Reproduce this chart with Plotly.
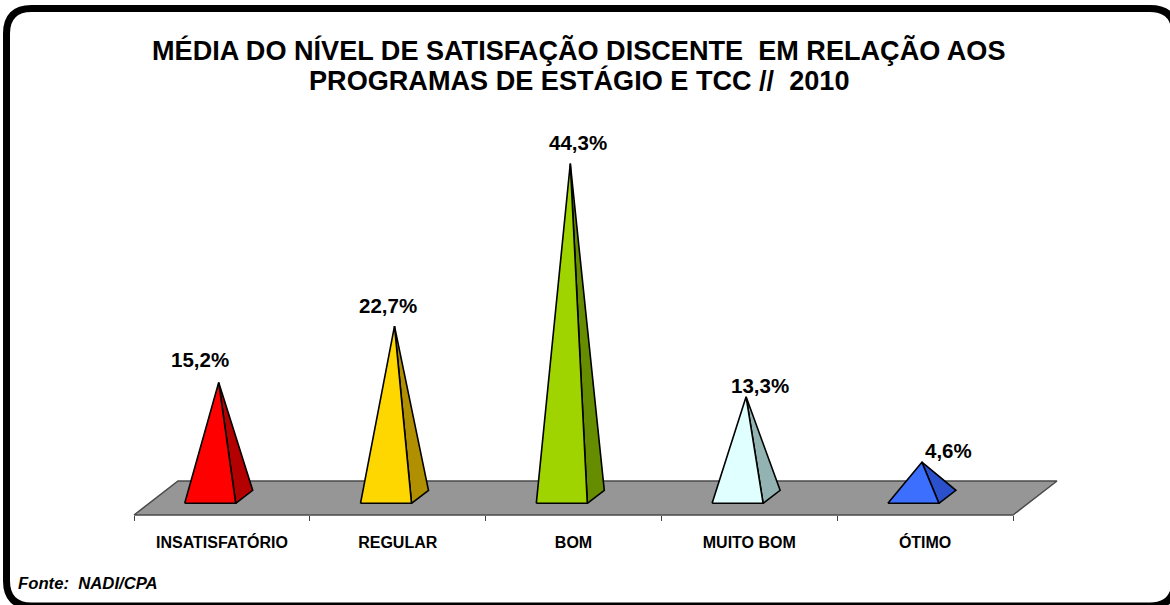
import plotly.graph_objects as go

# ---- data ----
categories = ["INSATISFATÓRIO", "REGULAR", "BOM", "MUITO BOM", "ÓTIMO"]
values = [15.2, 22.7, 44.3, 13.3, 4.6]
labels = ["15,2%", "22,7%", "44,3%", "13,3%", "4,6%"]
front_colors = ["#FF0000", "#FFD700", "#A0D400", "#E0FFFF", "#3D6FFF"]
side_colors = ["#B30000", "#B08F00", "#668C00", "#93B3B3", "#2A50CC"]
title_lines = ["MÉDIA DO NÍVEL DE SATISFAÇÃO DISCENTE\u00a0 EM RELAÇÃO AOS",
               "PROGRAMAS DE ESTÁGIO E TCC //\u00a0 2010"]
label_dx = [-18.5, -6.5, 7.5, 13.5, 26.5]
label_dy = [23, 21, 21.5, 11, 12]

W, H = 1170, 605
X0, X_STEP = 134.0, 175.8   # pixel of the axis start, pixels per category
Y0, Y_STEP = 496.8, 7.52    # pixel of value zero, pixels per value unit

fx = lambda px: 0.5 + (px - X0) / X_STEP
fy = lambda py: (Y0 - py) / Y_STEP
dxu = lambda px: px / X_STEP
dyu = lambda px: px / Y_STEP

font = "Liberation Sans, Arial, sans-serif"
fig = go.Figure()

# floor
fig.add_trace(go.Scatter(
    x=[0.5, 5.5, 5.5 + dxu(44), 0.5 + dxu(44), 0.5],
    y=[-dyu(18.2), -dyu(18.2), dyu(15.8), dyu(15.8), -dyu(18.2)],
    mode="lines", fill="toself", fillcolor="#969696",
    line=dict(color="#4a4a4a", width=1.5), hoverinfo="skip", showlegend=False))

# pyramids
half, dep_x, dep_y = dxu(25.5), dxu(8.5), dyu(6.5)
for i, v in enumerate(values):
    c = i + 1 + fx(218.7) - 1
    fl, fr = c - dep_x - half, c - dep_x + half
    br = c + dep_x + half
    fig.add_trace(go.Scatter(
        x=[fr, br, c, fr], y=[-dep_y, dep_y, v, -dep_y],
        mode="lines", fill="toself", fillcolor=side_colors[i],
        line=dict(color="black", width=1.6), hoverinfo="skip", showlegend=False))
    fig.add_trace(go.Scatter(
        x=[fl, fr, c, fl], y=[-dep_y, -dep_y, v, -dep_y],
        mode="lines", fill="toself", fillcolor=front_colors[i],
        line=dict(color="black", width=1.6), name=categories[i], showlegend=False))
    fig.add_annotation(x=c, y=v, text="<b>%s</b>" % labels[i], showarrow=False,
                       xanchor="center", yanchor="middle",
                       xshift=label_dx[i], yshift=label_dy[i],
                       font=dict(family=font, size=20.5, color="black"))

# frame
l, t, r, b, rad = 6.5, 8.5, 1175, 606, 25
px = lambda v: v / W
py = lambda v: 1 - v / H
frame = (f"M {px(l)} {py(t+rad)} Q {px(l)} {py(t)} {px(l+rad)} {py(t)} "
         f"L {px(r-rad)} {py(t)} Q {px(r)} {py(t)} {px(r)} {py(t+rad)} "
         f"L {px(r)} {py(b-rad)} Q {px(r)} {py(b)} {px(r-rad)} {py(b)} "
         f"L {px(l+rad)} {py(b)} Q {px(l)} {py(b)} {px(l)} {py(b-rad)} Z")
fig.add_shape(type="path", xref="paper", yref="paper", path=frame,
              line=dict(color="black", width=7), layer="above")

for line, yc in zip(title_lines, [50.5, 81]):
    fig.add_annotation(xref="paper", yref="paper", x=578.5 / W, y=1 - yc / H,
                       text="<b>%s</b>" % line,
                       showarrow=False, align="center", xanchor="center", yanchor="middle",
                       font=dict(family=font, size=27.1, color="black"))
fig.add_annotation(xref="paper", yref="paper", x=16 / W, y=1 - 583 / H,
                   text="<b><i>Fonte:\u00a0 NADI/CPA</i></b>", showarrow=False,
                   xanchor="left", yanchor="middle",
                   font=dict(family=font, size=16.7, color="black"))

fig.update_layout(
    width=W, height=H, margin=dict(l=0, r=0, t=0, b=0),
    paper_bgcolor="white", plot_bgcolor="white", showlegend=False,
    xaxis=dict(range=[fx(0), fx(W)], tickvals=[1, 2, 3, 4, 5], ticktext=categories,
               anchor="free", position=1 - 515 / H, showgrid=False, zeroline=False,
               ticks="", showline=False, ticklabelstandoff=16,
               tickfont=dict(family=font, size=16, color="black", weight="bold"),
               minor=dict(tickvals=[0.5, 1.5, 2.5, 3.5, 4.5, 5.5], ticks="outside",
                          ticklen=5, tickwidth=1, tickcolor="#444444", showgrid=False),
               fixedrange=True),
    yaxis=dict(range=[fy(H), fy(0)], visible=False, fixedrange=True),
)
fig.write_html("out.html", config=dict(displayModeBar=False),
               post_script="document.body.style.margin='0';document.documentElement.style.overflow='hidden';")
